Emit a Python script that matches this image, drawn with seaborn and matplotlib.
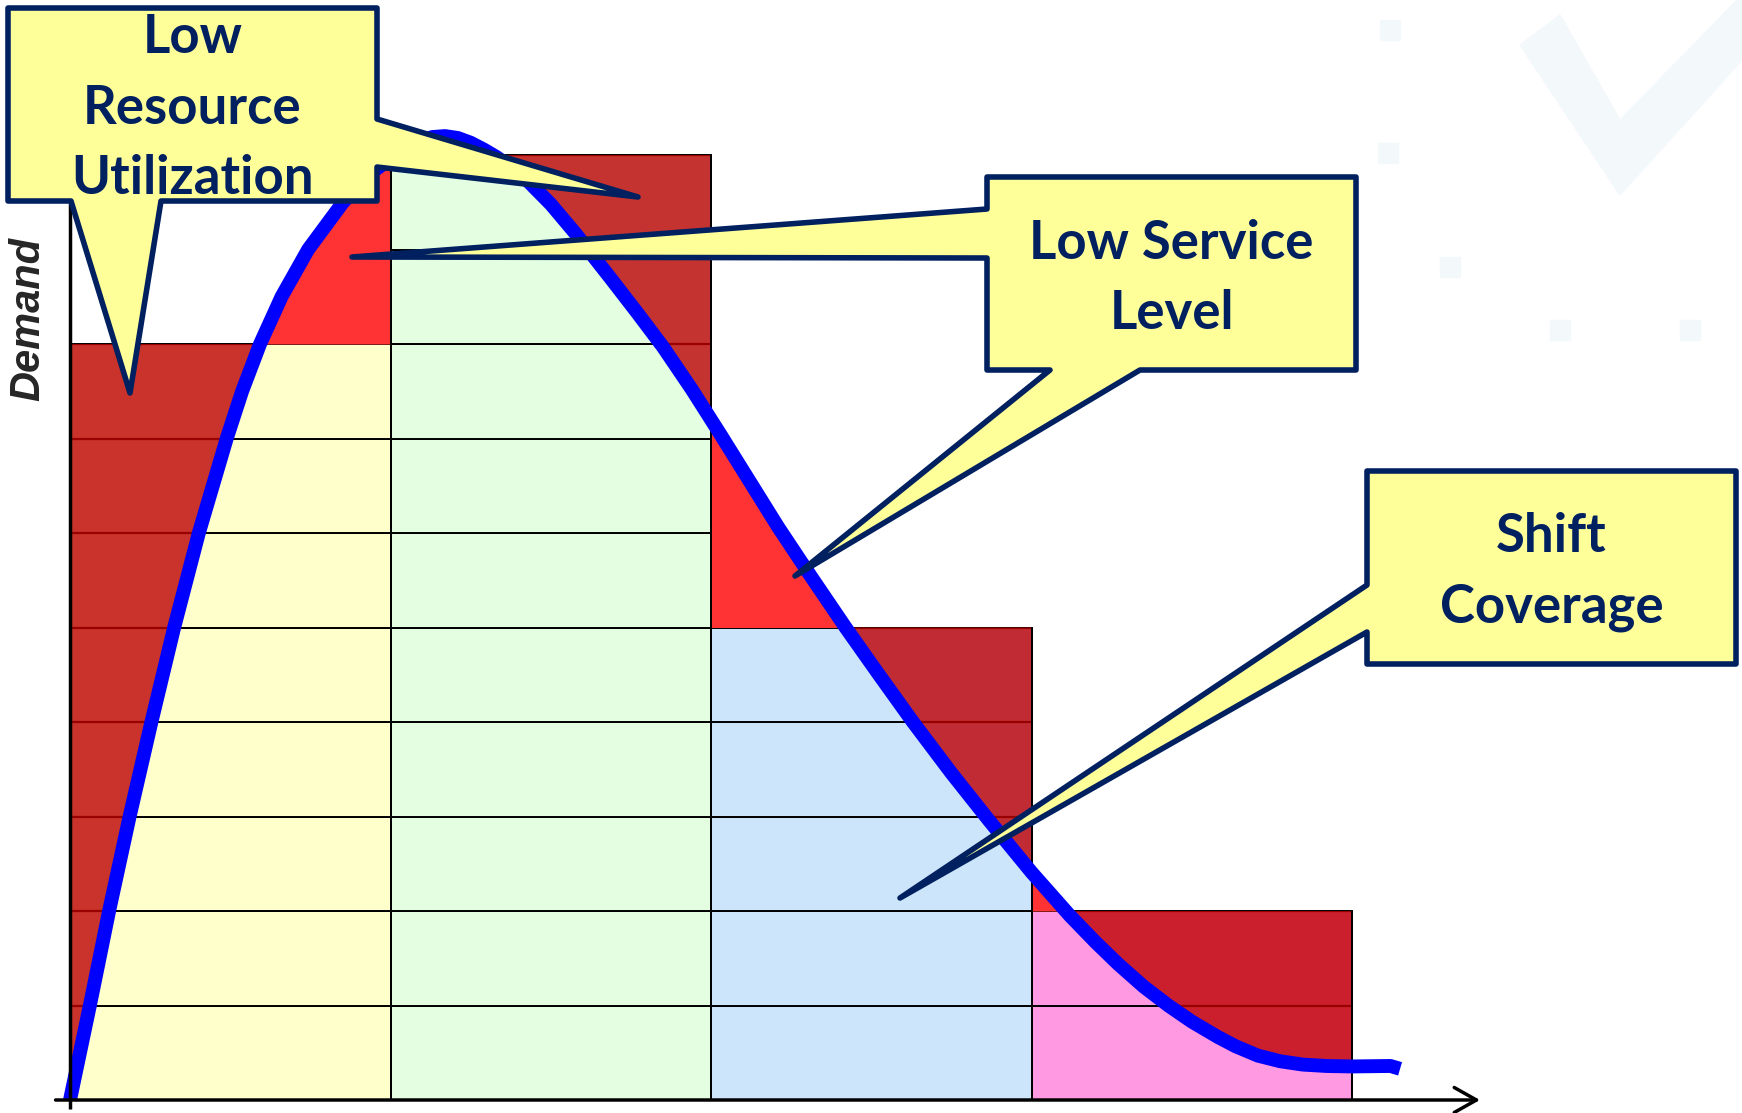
import numpy as np
import matplotlib
matplotlib.use("Agg")
import matplotlib.pyplot as plt
from matplotlib.patches import Polygon
from matplotlib.path import Path
import seaborn as sns

# shifts: where each block starts (in shift-width units) and how many staff it covers
shift_starts = [0, 1, 2, 3]
shift_levels = [8, 10, 5, 2]
shift_colors = ["#FFFFCC", "#E3FEE0", "#CCE5FB", "#FF99E1"]
excess_colors = ["#C9332B", "#C53330", "#C12C34", "#CC1F2E"]
short_color = "#FF3333"

# demand curve (x in shift widths, y in staff units)
demand_x = [0.0, 0.062, 0.122, 0.186, 0.254, 0.325, 0.402, 0.489, 0.537, 0.593,
            0.66, 0.743, 0.852, 0.935, 1.015, 1.078, 1.13, 1.17, 1.21, 1.25,
            1.29, 1.33, 1.38, 1.43, 1.50, 1.577, 1.63, 1.688, 1.77, 1.85,
            1.94, 2.03, 2.12, 2.21, 2.31, 2.42, 2.52, 2.63, 2.75, 2.867,
            3.0, 3.12, 3.2, 3.27, 3.35, 3.427, 3.5, 3.58, 3.636, 3.706,
            3.776, 3.846, 3.92, 4.0, 4.12, 4.15]
demand_y = [0.0, 1.0, 2.0, 3.0, 4.0, 5.0, 6.0, 7.0, 7.5, 8.0,
            8.5, 9.0, 9.5, 9.8, 10.0, 10.12, 10.19, 10.2, 10.18, 10.13,
            10.06, 9.98, 9.86, 9.72, 9.48, 9.17, 8.94, 8.69, 8.33, 7.97,
            7.52, 7.04, 6.55, 6.06, 5.55, 5.0, 4.52, 4.0, 3.46, 2.96,
            2.41, 1.95, 1.67, 1.44, 1.2, 1.0, 0.83, 0.67, 0.57, 0.47,
            0.41, 0.375, 0.36, 0.355, 0.36, 0.33]

callout_texts = [["Low", "Resource", "Utilization"],
                 ["Low Service", "Level"],
                 ["Shift", "Coverage"]]
y_label = "Demand"

# canvas geometry (pixels of the 1742x1113 picture)
W, H = 1742, 1113
col0_px, col_w_px = 70, 320.5
base_px, lvl_px = 1100, 94.5


def px(x, y):
    return (x / W, 1 - y / H)


sns.set_theme(style="white")
plt.rcParams["font.family"] = ["Lato", "DejaVu Sans"]

fig = plt.figure(figsize=(W / 100, H / 100), dpi=100)
ax = fig.add_axes([0, 0, 1, 1])
ax.set_xlim(-col0_px / col_w_px, (W - col0_px) / col_w_px)
ax.set_ylim(-(H - base_px) / lvl_px, base_px / lvl_px)
ax.set_axis_off()

# faint watermark in the corner
wm = "#F3F8FB"
ax.add_patch(Polygon([px(1520, 45), px(1560, 15), px(1620, 120), px(1742, -5),
                      px(1742, 60), px(1620, 195)],
                     transform=ax.transAxes, color=wm, zorder=0))
for cx, cy in [(1390, 30), (1388, 153), (1450, 267), (1560, 330), (1690, 330)]:
    ax.add_patch(Polygon([px(cx - 10, cy - 10), px(cx + 10, cy - 10),
                          px(cx + 10, cy + 10), px(cx - 10, cy + 10)],
                         transform=ax.transAxes, color=wm, zorder=0))

# staffing cells
for x0, lvl, col in zip(shift_starts, shift_levels, shift_colors):
    ax.bar([x0 + 0.5] * lvl, [1] * lvl, bottom=list(range(lvl)), width=1,
           color=col, edgecolor="black", linewidth=1.4, zorder=1)

# excess and shortage areas
dx = np.array(demand_x)
dy = np.array(demand_y)
for i, (x0, lvl) in enumerate(zip(shift_starts, shift_levels)):
    x1 = x0 + 1
    inside = (dx > x0) & (dx < x1)
    xs = np.concatenate([[x0], dx[inside], [x1]])
    ys = np.interp(xs, dx, dy)
    cap = np.full_like(xs, lvl, dtype=float)
    over = ax.fill_between(xs, ys, cap, where=cap >= ys, interpolate=True,
                           color=excess_colors[i], lw=0, zorder=2)
    ax.fill_between(xs, cap, ys, where=ys >= cap, interpolate=True,
                    color=short_color, lw=0, zorder=2)
    paths = over.get_paths()
    if paths:
        clip = Path.make_compound_path(*paths)
        lines = ax.hlines(range(1, lvl + 1), x0, x1, colors="#990000",
                          lw=1.6, zorder=2.5)
        lines.set_clip_path(clip, ax.transData)

# shift borders
tops = [max(shift_levels[i - 1], shift_levels[i]) if i < len(shift_levels) else shift_levels[-1]
        for i in range(1, len(shift_levels) + 1)]
ax.vlines([s + 1 for s in shift_starts], 0, tops, colors="black", lw=1.4, zorder=3)

# demand curve
sns.lineplot(x=demand_x, y=demand_y, ax=ax, color="#0000FF", linewidth=10,
             estimator=None, sort=False, zorder=4, legend=False,
             solid_joinstyle="round", solid_capstyle="butt")

# axes
ax.plot([0, 0], [-0.1, 9.6], color="black", lw=2.5, zorder=4, solid_capstyle="butt")
ax.annotate("", xy=((1480 - col0_px) / col_w_px, 0), xytext=(-0.045, 0),
            arrowprops=dict(arrowstyle="->,head_length=0.8,head_width=0.45",
                            lw=2.5, color="black", shrinkA=0, shrinkB=0,
                            mutation_scale=20), zorder=4)
ax.text(*px(28, 319), y_label, transform=ax.transAxes, rotation=90,
        family=["Liberation Sans", "DejaVu Sans"], fontweight="bold",
        fontstyle="italic", fontsize=30, ha="center", va="center")

# callouts
shapes = [
    [(8, 8), (377, 8), (377, 119), (638, 197), (377, 167), (377, 201),
     (161, 201), (130, 393), (71, 201), (8, 201)],
    [(987, 177), (1356, 177), (1356, 370), (1140, 370), (795, 576),
     (1050, 370), (987, 370), (987, 258), (352, 257), (987, 209)],
    [(1367, 471), (1736, 471), (1736, 664), (1367, 664), (1367, 632),
     (900, 898), (1367, 585)],
]
text_x = [192.5, 1171.5, 1551.5]
baselines = [[53, 124, 194], [259, 329], [552, 622]]
navy = "#002060"
for shape, lines_, tx, bls in zip(shapes, callout_texts, text_x, baselines):
    ax.add_patch(Polygon([px(*p) for p in shape], closed=True,
                         transform=ax.transAxes, facecolor="#FFFF99",
                         edgecolor=navy, lw=4, joinstyle="round",
                         clip_on=False, zorder=5))
    for line, bl in zip(lines_, bls):
        ax.text(*px(tx, bl), line, transform=ax.transAxes, color=navy,
                fontsize=38, fontweight="bold", ha="center", va="baseline",
                zorder=6)

fig.savefig("out.png", dpi=100)
